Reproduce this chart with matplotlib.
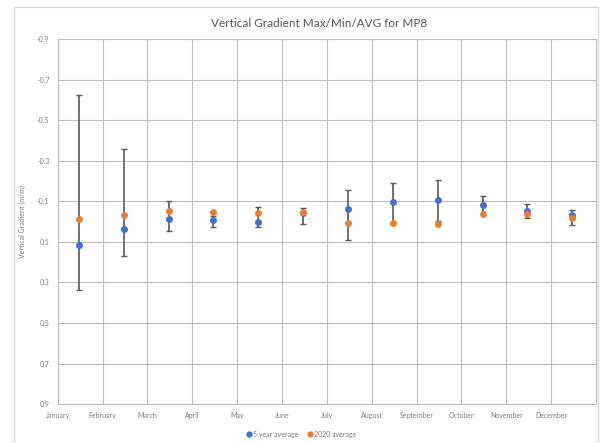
import matplotlib.pyplot as plt
from matplotlib.lines import Line2D
import numpy as np

plt.rcParams['font.family'] = ['Lato', 'DejaVu Sans']

months = ["January", "February", "March", "April", "May", "June", "July",
          "August", "September", "October", "November", "December"]

# 5 year average with max/min range
avg5 = [0.116, 0.038, -0.014, -0.009, 0.001, -0.045, -0.065, -0.095, -0.105, -0.083, -0.055, -0.035]
max5 = [-0.625, -0.359, -0.102, -0.030, -0.075, -0.067, -0.156, -0.190, -0.207, -0.127, -0.087, -0.060]
min5 = [0.337, 0.169, 0.046, 0.024, 0.026, 0.011, 0.089, 0.005, -0.002, -0.040, -0.017, 0.016]

# 2020 average
avg2020 = [-0.012, -0.033, -0.055, -0.046, -0.041, -0.046, 0.008, 0.007, 0.013, -0.038, -0.040, -0.018]

x = np.arange(len(months)) + 0.47
lower = np.array(avg5) - np.array(max5)
upper = np.array(min5) - np.array(avg5)

fig = plt.figure(figsize=(6.02, 4.43), dpi=100)
ax = fig.add_axes([0.096, 0.088, 0.894, 0.823])

ax.errorbar(x, avg5, yerr=[lower, upper], fmt='o', color='#4472C4', ms=4,
            ecolor='#595959', elinewidth=1.2, capsize=2, capthick=1, zorder=3)
ax.plot(x, avg2020, 'o', color='#ED7D31', ms=4, zorder=4)

ax.set_xlim(0, 12)
ax.set_ylim(0.9, -0.9)
ax.set_xticks(range(13))
ax.set_xticklabels(months + [""])
ax.set_yticks(np.arange(-0.9, 0.91, 0.2))
ax.set_yticklabels([f"{v:.1f}" for v in np.arange(-0.9, 0.91, 0.2)])
ax.tick_params(axis='both', length=0, labelsize=5, colors='#7f7f7f', pad=6)
ax.grid(True, color='#bfbfbf', linewidth=0.8)
ax.set_axisbelow(True)
for s in ax.spines.values():
    s.set_color('#bfbfbf')
    s.set_linewidth(0.8)

ax.set_ylabel('Vertical Gradient (m/m)', fontsize=5, color='#7f7f7f', labelpad=8)
fig.text(0.53, 0.948, 'Vertical Gradient Max/Min/AVG for MP8', ha='center',
         va='center', fontsize=8.5, color='#595959')

handles = [Line2D([], [], marker='o', ls='none', color='#4472C4', ms=3.5),
           Line2D([], [], marker='o', ls='none', color='#ED7D31', ms=3.5)]
fig.legend(handles, ['5 year average', '2020 average'], loc='center',
           bbox_to_anchor=(0.5, 0.02), ncol=2, frameon=False, fontsize=5,
           labelcolor='#7f7f7f', handletextpad=0.1, columnspacing=1.2,
           handlelength=1)

# outer chart border
fig.patches.append(plt.Rectangle((0.023, 0.0), 0.97, 0.985, transform=fig.transFigure,
                                 fill=False, edgecolor='#d9d9d9', linewidth=1))

fig.savefig('out.png', dpi=100)
